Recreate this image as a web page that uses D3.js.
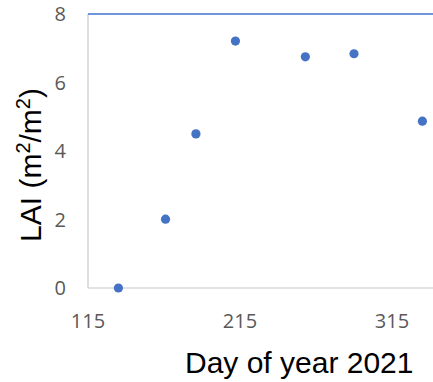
<!DOCTYPE html>
<html>
<head>
<meta charset="utf-8">
<script src="https://cdn.jsdelivr.net/npm/d3@7"></script>
<style>
  body { margin: 0; background: #fff; }
  svg { display: block; }
</style>
</head>
<body>
<svg id="chart" width="433" height="382"></svg>
<script>
// data
const days = [135, 166, 186, 212, 258, 290, 335];
const lai = [0, 2.01, 4.5, 7.21, 6.75, 6.84, 4.87];
const xTicks = [115, 215, 315];
const yTicks = [0, 2, 4, 6, 8];

const svg = d3.select("#chart");
const margin = { left: 88, top: 14, bottom: 94 };
const height = 382 - margin.top - margin.bottom;

const x = d3.scaleLinear().domain([115, 365]).range([margin.left, margin.left + 380]);
const y = d3.scaleLinear().domain([0, 8]).range([margin.top + height, margin.top]);

const tickFont = "'Open Sans', Lato, sans-serif";
const titleFont = "'Liberation Sans', Arial, sans-serif";

// left and bottom axis lines (grey), top line (blue)
svg.append("line")
    .attr("x1", x(115)).attr("x2", x(115))
    .attr("y1", y(0)).attr("y2", y(8))
    .attr("stroke", "#c8c8c8").attr("stroke-width", 1.2);

svg.append("line")
    .attr("x1", x(115)).attr("x2", x(365))
    .attr("y1", y(0)).attr("y2", y(0))
    .attr("stroke", "#c8c8c8").attr("stroke-width", 1.2);

svg.append("line")
    .attr("x1", x(115)).attr("x2", x(365))
    .attr("y1", y(8)).attr("y2", y(8))
    .attr("stroke", "#6f95dc").attr("stroke-width", 1.8);

// y tick labels
svg.append("g").selectAll("text")
    .data(yTicks)
    .join("text")
    .attr("x", 66)
    .attr("y", d => y(d))
    .attr("dy", "0.35em")
    .attr("text-anchor", "end")
    .attr("font-family", tickFont)
    .attr("font-size", 20)
    .attr("fill", "#595959")
    .text(d => d);

// x tick labels
svg.append("g").selectAll("text")
    .data(xTicks)
    .join("text")
    .attr("x", d => x(d))
    .attr("y", 328)
    .attr("text-anchor", "middle")
    .attr("font-family", tickFont)
    .attr("font-size", 20)
    .attr("fill", "#595959")
    .text(d => d);

// points
svg.append("g").selectAll("circle")
    .data(days.map((d, i) => ({ day: d, lai: lai[i] })))
    .join("circle")
    .attr("cx", d => x(d.day))
    .attr("cy", d => y(d.lai))
    .attr("r", 4.6)
    .attr("fill", "#4472c4");

// axis titles
svg.append("text")
    .attr("x", 185)
    .attr("y", 373)
    .attr("font-family", titleFont)
    .attr("font-size", 30)
    .attr("fill", "#000")
    .text("Day of year 2021");

const yTitle = svg.append("text")
    .attr("transform", "translate(41,165) rotate(-90)")
    .attr("text-anchor", "middle")
    .attr("font-family", titleFont)
    .attr("font-size", 30)
    .attr("fill", "#000");

yTitle.append("tspan").text("LAI (m");
yTitle.append("tspan").attr("font-size", 20).attr("dy", -11).text("2");
yTitle.append("tspan").attr("dy", 11).text("/m");
yTitle.append("tspan").attr("font-size", 20).attr("dy", -11).text("2");
yTitle.append("tspan").attr("dy", 11).text(")");
</script>
</body>
</html>
